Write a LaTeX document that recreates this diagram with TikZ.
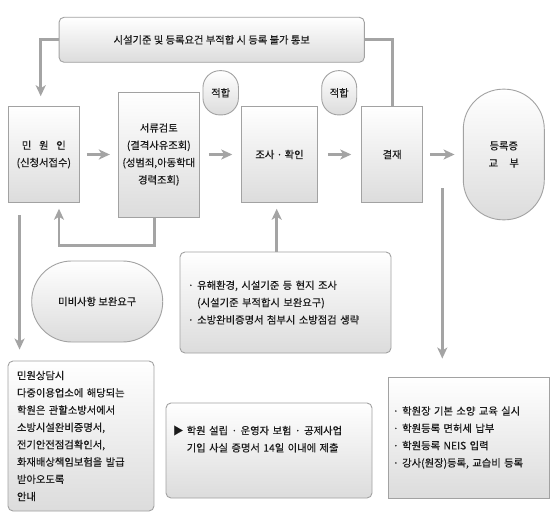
\documentclass[tikz,border=0pt]{standalone}
\usepackage{fontspec}
\setmainfont{Noto Sans CJK KR}[FakeBold=0.35]
\usetikzlibrary{arrows.meta}
\definecolor{lc}{HTML}{A4A4A4}
\definecolor{bc}{HTML}{A2A2A2}
\definecolor{tc}{HTML}{1A1A1A}
\definecolor{sh}{HTML}{DCDCDC}
\begin{document}
\begin{tikzpicture}[x=1pt,y=-1pt,
  kfont/.style={font={\fontsize{10.3}{17.3}\selectfont}},
  box/.style={draw=bc, line width=0.9pt, top color=white, bottom color=sh, inner sep=0pt, align=center, text=tc, kfont},
  rbox/.style={box, rounded corners=5pt},
  stad/.style={box, rounded corners=#1},
  arr/.style={draw=lc, line width=2.7pt, -{Stealth[length=11pt,width=10pt,inset=3pt]}},
  lin/.style={draw=lc, line width=2.7pt},
]
\fill[white] (0,0) rectangle (555,519);
\useasboundingbox (0,0) rectangle (555,519);

\node[rbox, minimum width=305.3pt, minimum height=45pt] (top) at (211.7,39.8) {시설기준 및 등록요건 부적합 시 등록 불가 통보};
\node[box, minimum width=71pt, minimum height=95.6pt] (minwon) at (43.8,154.5) {민\hspace{0.75em}원\hspace{0.75em}인\\(신청서접수)};
\node[box, minimum width=81pt, minimum height=125pt] (seoryu) at (158.8,154.5) {서류검토\\(결격사유조회)\\(성범죄,아동학대\\경력조회)};
\node[stad=17pt, minimum width=35.5pt, minimum height=44.3pt] (fit1) at (220.7,92.8) {적합};
\node[box, minimum width=75.6pt, minimum height=95.6pt] (josa) at (279.5,154.5) {조사 · 확인};
\node[stad=17pt, minimum width=35pt, minimum height=44.3pt] (fit2) at (339.2,92.8) {적합};
\node[box, minimum width=61pt, minimum height=95.6pt] (gyeol) at (392.2,154.5) {결재};
\node[stad=40pt, minimum width=81pt, minimum height=130.7pt] (deung) at (503.8,154.5) {등록증\\교\hspace{1.1em}부};
\node[stad=40pt, minimum width=131pt, minimum height=81pt] (mibi) at (97.2,301.5) {미비사항 보완요구};
\node[rbox, align=left, text width=195pt, inner xsep=8pt, minimum height=101pt] (yuhae) at (285.5,302.5)
  {· 유해환경, 시설기준 등 현지 조사\\\phantom{·\ }(시설기준 부적합시 보완요구)\\· 소방완비증명서 첨부시 소방점검 생략};
\node[rbox, align=left, text width=128pt, inner xsep=9pt, minimum height=150pt] (sangdam) at (81,436)
  {민원상담시\\다중이용업소에 해당되는\\학원은 관할소방서에서\\소방시설완비증명서,\\전기안전점검확인서,\\화재배상책임보험을 발급\\받아오도록\\안내};
\node[rbox, align=left, text width=192pt, inner xsep=7pt, minimum height=95pt, text depth=41pt] (hakwon) at (269,450.5)
  {▶ 학원 설립 · 운영자 보험 · 공제사업\\\phantom{▶ }기입 사실 증명서 14일 이내에 제출};
\node[box, align=left, text width=151pt, inner xsep=5pt, minimum height=121pt] (right) at (468.5,437.5)
  {· 학원장 기본 소양 교육 실시\\· 학원등록 면허세 납부\\· 학원등록 NEIS 입력\\· 강사(원장)등록, 교습비 등록};

\draw[arr] (top.west) -| ([shift={(-3.1,-10)}]minwon.north);
\draw[lin] (top.east) -| (gyeol.north);
\draw[arr] ([xshift=7pt]minwon.east) -- ([xshift=-8pt]seoryu.west);
\draw[arr] ([xshift=9pt]seoryu.east) -- ([xshift=-9pt]josa.west);
\draw[arr] ([xshift=10pt]josa.east) -- ([xshift=-10pt]gyeol.west);
\draw[arr] ([xshift=7.3pt]gyeol.east) -- ([xshift=-8.3pt]deung.west);
\draw[arr] ([xshift=-4pt]seoryu.south) -- ++(0,28.3) -| ([shift={(15.2,6)}]minwon.south);
\draw[arr] ([shift={(11.7,12.7)}]minwon.south west) -- ([shift={(12,-11)}]sangdam.north west);
\draw[arr] ([xshift=-8.8pt]yuhae.north) -- ([shift={(-2.8,6)}]josa.south);
\coordinate (rd) at (442.3,188.3);
\draw[arr] (rd) -- ([shift={(-26.2,-18)}]right.north);
\end{tikzpicture}
\end{document}
